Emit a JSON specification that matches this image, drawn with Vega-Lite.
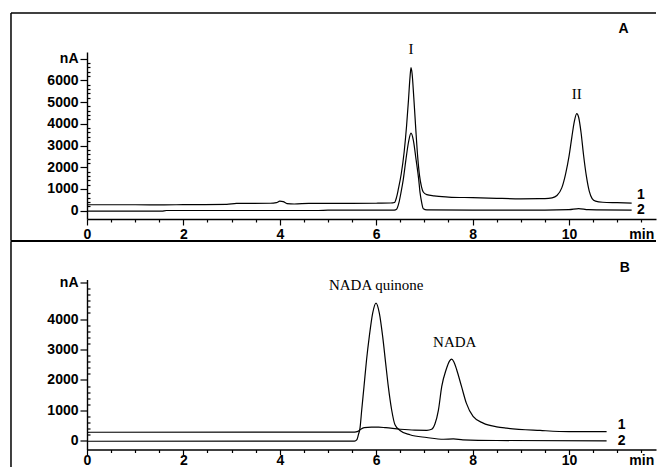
{
  "$schema": "https://vega.github.io/schema/vega-lite/v6.json",
  "background": "white",
  "padding": {"left": 10, "top": 12, "right": 0, "bottom": 0},
  "spacing": -1.5,
  "config": {
    "view": {"stroke": null}
  },
  "datasets": {
    "a": [
      {"trace": "1", "t": 0, "v": 275}, {"trace": "1", "t": 1, "v": 275}, {"trace": "1", "t": 1.6, "v": 270}, {"trace": "1", "t": 2, "v": 280}, {"trace": "1", "t": 2.9, "v": 290}, {"trace": "1", "t": 3.1, "v": 335}, {"trace": "1", "t": 3.8, "v": 345}, {"trace": "1", "t": 3.93, "v": 370}, {"trace": "1", "t": 4.0, "v": 440}, {"trace": "1", "t": 4.07, "v": 420}, {"trace": "1", "t": 4.15, "v": 330}, {"trace": "1", "t": 4.3, "v": 310}, {"trace": "1", "t": 4.6, "v": 335}, {"trace": "1", "t": 5.0, "v": 340}, {"trace": "1", "t": 5.5, "v": 340}, {"trace": "1", "t": 6.0, "v": 345}, {"trace": "1", "t": 6.3, "v": 355}, {"trace": "1", "t": 6.38, "v": 380}, {"trace": "1", "t": 6.42, "v": 600}, {"trace": "1", "t": 6.46, "v": 1000}, {"trace": "1", "t": 6.52, "v": 1700}, {"trace": "1", "t": 6.58, "v": 2700}, {"trace": "1", "t": 6.63, "v": 3900}, {"trace": "1", "t": 6.67, "v": 5100}, {"trace": "1", "t": 6.70, "v": 6100}, {"trace": "1", "t": 6.722, "v": 6580}, {"trace": "1", "t": 6.745, "v": 6300}, {"trace": "1", "t": 6.78, "v": 5200}, {"trace": "1", "t": 6.82, "v": 3800}, {"trace": "1", "t": 6.86, "v": 2500}, {"trace": "1", "t": 6.90, "v": 1600}, {"trace": "1", "t": 6.94, "v": 1100}, {"trace": "1", "t": 6.98, "v": 850}, {"trace": "1", "t": 7.05, "v": 740}, {"trace": "1", "t": 7.2, "v": 680}, {"trace": "1", "t": 7.5, "v": 630}, {"trace": "1", "t": 8.0, "v": 600}, {"trace": "1", "t": 8.5, "v": 570}, {"trace": "1", "t": 9.0, "v": 550}, {"trace": "1", "t": 9.5, "v": 555}, {"trace": "1", "t": 9.65, "v": 590}, {"trace": "1", "t": 9.75, "v": 700}, {"trace": "1", "t": 9.85, "v": 1050}, {"trace": "1", "t": 9.93, "v": 1700}, {"trace": "1", "t": 10.0, "v": 2500}, {"trace": "1", "t": 10.06, "v": 3400}, {"trace": "1", "t": 10.11, "v": 4100}, {"trace": "1", "t": 10.16, "v": 4470}, {"trace": "1", "t": 10.2, "v": 4300}, {"trace": "1", "t": 10.25, "v": 3600}, {"trace": "1", "t": 10.3, "v": 2600}, {"trace": "1", "t": 10.36, "v": 1600}, {"trace": "1", "t": 10.42, "v": 900}, {"trace": "1", "t": 10.48, "v": 560}, {"trace": "1", "t": 10.55, "v": 440}, {"trace": "1", "t": 10.7, "v": 390}, {"trace": "1", "t": 11.0, "v": 370}, {"trace": "1", "t": 11.3, "v": 350},
      {"trace": "2", "t": 0, "v": -20}, {"trace": "2", "t": 1.55, "v": -20}, {"trace": "2", "t": 1.65, "v": 10}, {"trace": "2", "t": 4.8, "v": 10}, {"trace": "2", "t": 5.0, "v": 25}, {"trace": "2", "t": 6.35, "v": 25}, {"trace": "2", "t": 6.40, "v": 40}, {"trace": "2", "t": 6.425, "v": 76}, {"trace": "2", "t": 6.473, "v": 383}, {"trace": "2", "t": 6.515, "v": 842}, {"trace": "2", "t": 6.563, "v": 1455}, {"trace": "2", "t": 6.618, "v": 2373}, {"trace": "2", "t": 6.67, "v": 3150}, {"trace": "2", "t": 6.722, "v": 3567}, {"trace": "2", "t": 6.77, "v": 3250}, {"trace": "2", "t": 6.826, "v": 2373}, {"trace": "2", "t": 6.881, "v": 1455}, {"trace": "2", "t": 6.909, "v": 842}, {"trace": "2", "t": 6.943, "v": 383}, {"trace": "2", "t": 6.978, "v": 90}, {"trace": "2", "t": 7.05, "v": 40}, {"trace": "2", "t": 8.0, "v": 30}, {"trace": "2", "t": 9.5, "v": 30}, {"trace": "2", "t": 10.0, "v": 50}, {"trace": "2", "t": 10.2, "v": 100}, {"trace": "2", "t": 10.4, "v": 50}, {"trace": "2", "t": 11.3, "v": 30}
    ],
    "b": [
      {"trace": "1", "t": 0, "v": 280}, {"trace": "1", "t": 5.55, "v": 285}, {"trace": "1", "t": 5.62, "v": 310}, {"trace": "1", "t": 5.68, "v": 380}, {"trace": "1", "t": 5.75, "v": 430}, {"trace": "1", "t": 5.9, "v": 450}, {"trace": "1", "t": 6.05, "v": 450}, {"trace": "1", "t": 6.2, "v": 430}, {"trace": "1", "t": 6.5, "v": 380}, {"trace": "1", "t": 6.8, "v": 350}, {"trace": "1", "t": 7.05, "v": 345}, {"trace": "1", "t": 7.15, "v": 380}, {"trace": "1", "t": 7.22, "v": 560}, {"trace": "1", "t": 7.29, "v": 1000}, {"trace": "1", "t": 7.36, "v": 1786}, {"trace": "1", "t": 7.45, "v": 2335}, {"trace": "1", "t": 7.52, "v": 2620}, {"trace": "1", "t": 7.566, "v": 2684}, {"trace": "1", "t": 7.61, "v": 2600}, {"trace": "1", "t": 7.67, "v": 2335}, {"trace": "1", "t": 7.77, "v": 1786}, {"trace": "1", "t": 7.87, "v": 1237}, {"trace": "1", "t": 8.01, "v": 800}, {"trace": "1", "t": 8.22, "v": 580}, {"trace": "1", "t": 8.5, "v": 460}, {"trace": "1", "t": 8.71, "v": 415}, {"trace": "1", "t": 9.4, "v": 340}, {"trace": "1", "t": 10.0, "v": 300}, {"trace": "1", "t": 10.78, "v": 300},
      {"trace": "2", "t": 0, "v": -15}, {"trace": "2", "t": 5.55, "v": -10}, {"trace": "2", "t": 5.6, "v": 40}, {"trace": "2", "t": 5.63, "v": 197}, {"trace": "2", "t": 5.664, "v": 415}, {"trace": "2", "t": 5.70, "v": 1020}, {"trace": "2", "t": 5.747, "v": 1786}, {"trace": "2", "t": 5.80, "v": 2664}, {"trace": "2", "t": 5.857, "v": 3431}, {"trace": "2", "t": 5.927, "v": 4197}, {"trace": "2", "t": 5.996, "v": 4526}, {"trace": "2", "t": 6.065, "v": 4197}, {"trace": "2", "t": 6.134, "v": 3431}, {"trace": "2", "t": 6.196, "v": 2553}, {"trace": "2", "t": 6.251, "v": 1786}, {"trace": "2", "t": 6.32, "v": 1020}, {"trace": "2", "t": 6.39, "v": 526}, {"trace": "2", "t": 6.494, "v": 339}, {"trace": "2", "t": 6.70, "v": 197}, {"trace": "2", "t": 7.047, "v": 108}, {"trace": "2", "t": 7.4, "v": 50}, {"trace": "2", "t": 7.6, "v": 60}, {"trace": "2", "t": 7.8, "v": 30}, {"trace": "2", "t": 8.5, "v": 10}, {"trace": "2", "t": 10.78, "v": 0}
    ],
    "frameA": [
      {"t": -1.577, "t2": 11.805, "v": 9091, "v2": 9091},
      {"t": -1.577, "t2": -1.577, "v": -1377, "v2": 9091},
      {"t": -1.577, "t2": 11.805, "v": -1377, "v2": -1377}
    ],
    "frameB": [
      {"t": -1.577, "t2": 11.805, "v": 6556, "v2": 6556},
      {"t": -1.577, "t2": -1.577, "v": -870, "v2": 6556}
    ],
    "peaksA": [
      {"label": "I", "t": 6.72, "v": 7424},
      {"label": "II", "t": 10.16, "v": 5358}
    ],
    "tagsA": [
      {"label": "A", "t": 11.13, "v": 8342},
      {"label": "1", "t": 11.49, "v": 735},
      {"label": "2", "t": 11.49, "v": 32}
    ],
    "peaksB": [
      {"label": "NADA quinone", "t": 6.0, "v": 5132},
      {"label": "NADA", "t": 7.63, "v": 3234}
    ],
    "tagsB": [
      {"label": "B", "t": 11.16, "v": 5678},
      {"label": "1", "t": 11.09, "v": 526},
      {"label": "2", "t": 11.09, "v": 0}
    ]
  },
  "vconcat": [
    {
      "width": 569,
      "height": 167,
      "resolve": {"axis": {"x": "independent", "y": "independent"}},
      "layer": [
        {
          "data": {"name": "a"},
          "mark": {"type": "line", "color": "black", "strokeWidth": 1.2, "interpolate": "monotone"},
          "encoding": {
            "x": {
              "field": "t", "type": "quantitative",
              "scale": {"domain": [0, 11.805], "nice": false, "zero": false},
              "axis": {"orient": "bottom", "title": null, "grid": false, "values": [0, 2, 4, 6, 8, 10], "format": "d", "tickSize": 6, "labelPadding": 2, "labelFont": "Liberation Sans", "labelFontWeight": "bold", "labelFontSize": 14, "labelColor": "black", "tickColor": "black", "tickWidth": 1.2, "domainColor": "black", "domainWidth": 1.4, "labelFlush": false}
            },
            "y": {
              "field": "v", "type": "quantitative",
              "scale": {"domain": [-380, 7300], "nice": false, "zero": false},
              "axis": {"orient": "left", "title": null, "grid": false, "values": [0, 1000, 2000, 3000, 4000, 5000, 6000, 7000], "labelExpr": "datum.value == 7000 ? 'nA' : format(datum.value, 'd')", "tickSize": 7, "labelPadding": 2, "labelFont": "Liberation Sans", "labelFontWeight": "bold", "labelFontSize": 14, "labelColor": "black", "tickColor": "black", "tickWidth": 1.2, "domainColor": "black", "domainWidth": 1.4}
            },
            "detail": {"field": "trace", "type": "nominal"}
          }
        },
        {
          "data": {"name": "frameA"},
          "mark": {"type": "rule", "color": "black", "strokeWidth": 1.5},
          "encoding": {
            "x": {
              "field": "t", "type": "quantitative",
              "scale": {"domain": [0, 11.805], "nice": false, "zero": false},
              "axis": {"orient": "bottom", "title": null, "grid": false, "domain": false, "values": [0.5, 1, 1.5, 2.5, 3, 3.5, 4.5, 5, 5.5, 6.5, 7, 7.5, 8.5, 9, 9.5, 10.5, 11, 11.5], "labelExpr": "datum.value == 11.5 ? 'min' : ''", "tickSize": 3, "labelPadding": 5, "labelFont": "Liberation Sans", "labelFontWeight": "bold", "labelFontSize": 14, "labelColor": "black", "tickColor": "black", "tickWidth": 1.2, "labelFlush": false, "labelOverlap": false}
            },
            "x2": {"field": "t2"},
            "y": {
              "field": "v", "type": "quantitative",
              "scale": {"domain": [-380, 7300], "nice": false, "zero": false},
              "axis": {"orient": "left", "title": null, "grid": false, "domain": false, "values": [200, 400, 600, 800, 1200, 1400, 1600, 1800, 2200, 2400, 2600, 2800, 3200, 3400, 3600, 3800, 4200, 4400, 4600, 4800, 5200, 5400, 5600, 5800, 6200, 6400, 6600, 6800], "labels": false, "tickSize": -3, "tickColor": "black", "tickWidth": 1.2}
            },
            "y2": {"field": "v2"}
          }
        },
        {
          "data": {"name": "peaksA"},
          "mark": {"type": "text", "font": "Liberation Serif", "fontSize": 15, "align": "center", "baseline": "middle", "color": "black"},
          "encoding": {
            "x": {"field": "t", "type": "quantitative", "axis": null},
            "y": {"field": "v", "type": "quantitative", "axis": null},
            "text": {"field": "label", "type": "nominal"}
          }
        },
        {
          "data": {"name": "tagsA"},
          "mark": {"type": "text", "font": "Liberation Sans", "fontWeight": "bold", "fontSize": 14, "align": "center", "baseline": "middle", "color": "black"},
          "encoding": {
            "x": {"field": "t", "type": "quantitative", "axis": null},
            "y": {"field": "v", "type": "quantitative", "axis": null},
            "text": {"field": "label", "type": "nominal"}
          }
        }
      ]
    },
    {
      "width": 569,
      "height": 170,
      "resolve": {"axis": {"x": "independent", "y": "independent"}},
      "layer": [
        {
          "data": {"name": "b"},
          "mark": {"type": "line", "color": "black", "strokeWidth": 1.2, "interpolate": "monotone"},
          "encoding": {
            "x": {
              "field": "t", "type": "quantitative",
              "scale": {"domain": [0, 11.805], "nice": false, "zero": false},
              "axis": {"orient": "bottom", "title": null, "grid": false, "values": [0, 2, 4, 6, 8, 10], "format": "d", "tickSize": 5, "labelPadding": -1, "labelFont": "Liberation Sans", "labelFontWeight": "bold", "labelFontSize": 14, "labelColor": "black", "tickColor": "black", "tickWidth": 1.2, "domainColor": "black", "domainWidth": 1.4, "labelFlush": false}
            },
            "y": {
              "field": "v", "type": "quantitative",
              "scale": {"domain": [-286, 5300], "nice": false, "zero": false},
              "axis": {"orient": "left", "title": null, "grid": false, "values": [0, 1000, 2000, 3000, 4000, 5200], "labelExpr": "datum.value == 5200 ? 'nA' : format(datum.value, 'd')", "tickSize": 7, "labelPadding": 2, "labelFont": "Liberation Sans", "labelFontWeight": "bold", "labelFontSize": 14, "labelColor": "black", "tickColor": "black", "tickWidth": 1.2, "domainColor": "black", "domainWidth": 1.4}
            },
            "detail": {"field": "trace", "type": "nominal"}
          }
        },
        {
          "data": {"name": "frameB"},
          "mark": {"type": "rule", "color": "black", "strokeWidth": 1.5},
          "encoding": {
            "x": {
              "field": "t", "type": "quantitative",
              "scale": {"domain": [0, 11.805], "nice": false, "zero": false},
              "axis": {"orient": "bottom", "title": null, "grid": false, "domain": false, "values": [0.5, 1, 1.5, 2.5, 3, 3.5, 4.5, 5, 5.5, 6.5, 7, 7.5, 8.5, 9, 9.5, 10.5, 11, 11.5], "labelExpr": "datum.value == 11.5 ? 'min' : ''", "tickSize": 3, "labelPadding": 1, "labelFont": "Liberation Sans", "labelFontWeight": "bold", "labelFontSize": 14, "labelColor": "black", "tickColor": "black", "tickWidth": 1.2, "labelFlush": false, "labelOverlap": false}
            },
            "x2": {"field": "t2"},
            "y": {
              "field": "v", "type": "quantitative",
              "scale": {"domain": [-286, 5300], "nice": false, "zero": false},
              "axis": {"orient": "left", "title": null, "grid": false, "domain": false, "values": [200, 400, 600, 800, 1200, 1400, 1600, 1800, 2200, 2400, 2600, 2800, 3200, 3400, 3600, 3800, 4200, 4400, 4600, 4800, 5000], "labels": false, "tickSize": -3, "tickColor": "black", "tickWidth": 1.2}
            },
            "y2": {"field": "v2"}
          }
        },
        {
          "data": {"name": "peaksB"},
          "mark": {"type": "text", "font": "Liberation Serif", "fontSize": 15, "align": "center", "baseline": "middle", "color": "black"},
          "encoding": {
            "x": {"field": "t", "type": "quantitative", "axis": null},
            "y": {"field": "v", "type": "quantitative", "axis": null},
            "text": {"field": "label", "type": "nominal"}
          }
        },
        {
          "data": {"name": "tagsB"},
          "mark": {"type": "text", "font": "Liberation Sans", "fontWeight": "bold", "fontSize": 14, "align": "center", "baseline": "middle", "color": "black"},
          "encoding": {
            "x": {"field": "t", "type": "quantitative", "axis": null},
            "y": {"field": "v", "type": "quantitative", "axis": null},
            "text": {"field": "label", "type": "nominal"}
          }
        }
      ]
    }
  ]
}
